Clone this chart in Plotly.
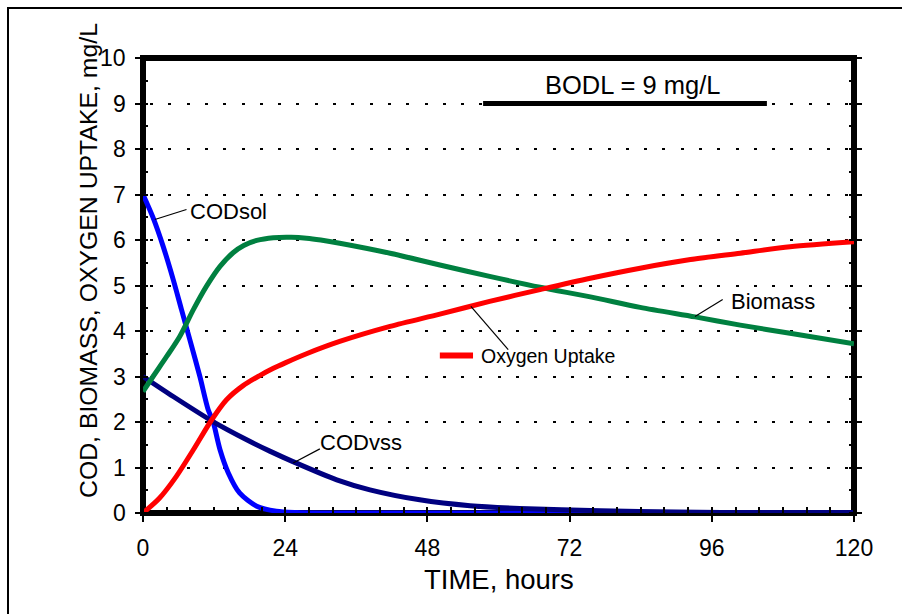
import plotly.graph_objects as go

# ---------------- data ----------------
t_codsol = [0, 1.7, 3.4, 5.1, 6.5, 7.9, 9.6, 11.0, 11.8, 13.0, 14.4, 16.3, 19.2, 22.5, 26, 30, 36, 48, 72, 96, 120]
codsol = [7.0, 6.49, 5.86, 5.13, 4.47, 3.81, 3.0, 2.27, 2.02, 1.39, 0.88, 0.44, 0.15, 0.04, 0.01, 0, 0, 0, 0, 0, 0]

t_codvss = [0, 5.1, 11.8, 17.5, 21.4, 25.3, 32.7, 38.3, 46.7, 55.2, 63.6, 77.2, 90, 105, 120]
codvss = [3.0, 2.56, 2.01, 1.61, 1.36, 1.13, 0.73, 0.51, 0.29, 0.16, 0.10, 0.05, 0.02, 0.01, 0.0]

t_biomass = [0, 1.7, 4.0, 6.2, 8.5, 10.7, 13.0, 15.2, 17, 19.2, 22, 25, 27.6, 30, 33.2, 41.7, 50.1, 58.5, 67, 75.5, 83.9, 93.2, 100.8, 109.2, 120]
biomass = [2.67, 3.0, 3.44, 3.88, 4.47, 4.98, 5.42, 5.72, 5.88, 5.99, 6.05, 6.06, 6.04, 6.0, 5.93, 5.71, 5.45, 5.2, 4.96, 4.75, 4.52, 4.31, 4.13, 3.95, 3.72]

t_oxygen = [0, 2.8, 5.6, 8.5, 11.6, 14.1, 16.9, 19.7, 22, 24, 27.6, 33.2, 41.7, 50.1, 58.5, 67, 75.5, 83.9, 92.4, 100.8, 109.2, 120]
oxygen = [0, 0.33, 0.80, 1.39, 2.05, 2.49, 2.80, 3.02, 3.18, 3.3, 3.5, 3.77, 4.1, 4.37, 4.65, 4.91, 5.16, 5.38, 5.57, 5.71, 5.85, 5.96]

bodl_value = 9
bodl_span = [57.4, 105.3]

x_ticks = [0, 24, 48, 72, 96, 120]
y_ticks = [0, 1, 2, 3, 4, 5, 6, 7, 8, 9, 10]

# ---------------- layout constants ----------------
W, H = 902, 614
L, R, T, B = 143, 48, 58, 101
PW = W - L - R
PH = H - T - B
FONT = "Arial, 'Liberation Sans', sans-serif"


def pxx(px):
    return (px - L) / PW


def pxy(py):
    return (H - B - py) / PH


fig = go.Figure()

curve = dict(shape="spline", smoothing=0.8, width=5)
fig.add_trace(go.Scatter(x=t_codsol, y=codsol, mode="lines", line=dict(color="#0000FF", **curve), name="CODsol"))
fig.add_trace(go.Scatter(x=t_codvss, y=codvss, mode="lines", line=dict(color="#000080", **curve), name="CODvss"))
fig.add_trace(go.Scatter(x=t_biomass, y=biomass, mode="lines", line=dict(color="#008040", **curve), name="Biomass"))
fig.add_trace(go.Scatter(x=t_oxygen, y=oxygen, mode="lines", line=dict(color="#FF0000", **curve), name="Oxygen Uptake"))
# BODL line
fig.add_trace(go.Scatter(x=bodl_span, y=[bodl_value, bodl_value], mode="lines", line=dict(color="black", width=5), name="BODL"))
# Oxygen uptake legend swatch
fig.add_trace(go.Scatter(x=[50.1, 55.7], y=[3.46, 3.46], mode="lines", line=dict(color="#FF0000", width=6), name="swatch"))
# dummy trace for right axis
fig.add_trace(go.Scatter(x=[0], y=[0], yaxis="y2", mode="markers", marker=dict(opacity=0), hoverinfo="skip"))

shapes = []
# plot frame
shapes.append(dict(type="rect", xref="paper", yref="paper", x0=0, x1=1, y0=0, y1=1,
                   line=dict(color="black", width=6), layer="below"))
# outer border (extends past the right and bottom edges of the picture)
shapes.append(dict(type="rect", xref="paper", yref="paper", x0=pxx(8), x1=pxx(912), y0=pxy(624), y1=pxy(8),
                   line=dict(color="black", width=2), layer="below"))
# leader lines (data coords)
leaders = [
    ((2.0, 6.45), (7.34, 6.67)),
    ((25.34, 1.10), (29.85, 1.41)),
    ((93.16, 4.32), (97.84, 4.69)),
    ((55.34, 4.54), (61.64, 3.59)),
]
for (a, b) in leaders:
    shapes.append(dict(type="line", xref="x", yref="y", x0=a[0], y0=a[1], x1=b[0], y1=b[1],
                       line=dict(color="black", width=1.2), layer="above"))

annotations = [
    dict(x=7.6, y=6.63, text="CODsol", size=22),
    dict(x=29.56, y=1.54, text="CODvss", size=22),
    dict(x=98.95, y=4.65, text="Biomass", size=22),
    dict(x=56.75, y=3.46, text="Oxygen Uptake", size=19.5),
]
ann = []
for a in annotations:
    ann.append(dict(x=a["x"], y=a["y"], xref="x", yref="y", text=a["text"], showarrow=False,
                    xanchor="left", yanchor="middle", font=dict(family=FONT, size=a["size"], color="black")))
ann.append(dict(x=82.7, y=9.41, xref="x", yref="y", text="BODL = 9 mg/L", showarrow=False,
                xanchor="center", yanchor="middle", font=dict(family=FONT, size=25.5, color="black")))
ann.append(dict(x=pxx(498.5), y=pxy(579), xref="paper", yref="paper", text="TIME, hours", showarrow=False,
                xanchor="center", yanchor="middle", font=dict(family=FONT, size=27.5, color="black")))
ann.append(dict(x=pxx(88), y=pxy(261), xref="paper", yref="paper", text="COD, BIOMASS, OXYGEN UPTAKE, mg/L",
                showarrow=False, textangle=-90, xanchor="center", yanchor="middle",
                font=dict(family=FONT, size=24.8, color="black")))
# y tick labels
for v in y_ticks:
    ann.append(dict(x=pxx(128), y=v, xref="paper", yref="y", text=str(v), showarrow=False,
                    xanchor="right", yanchor="middle", font=dict(family=FONT, size=23, color="black")))

fig.update_layout(
    width=W, height=H,
    margin=dict(l=L, r=R, t=T, b=B, pad=0),
    paper_bgcolor="white", plot_bgcolor="white",
    showlegend=False,
    shapes=shapes, annotations=ann,
    font=dict(family=FONT, color="black"),
    xaxis=dict(range=[0, 120], tickvals=x_ticks, ticks="outside", ticklen=8, tickwidth=1.5, tickcolor="black",
               showline=False, showgrid=False, zeroline=False,
               tickfont=dict(family=FONT, size=23, color="black"), ticklabelstandoff=6,
               minor=dict(dtick=4, tick0=0, ticks="inside", ticklen=6, tickwidth=1.5, tickcolor="black", showgrid=False)),
    yaxis=dict(range=[0, 10], tickvals=y_ticks, ticks="outside", ticklen=7, tickwidth=1.5, tickcolor="black",
               showline=False, zeroline=False, showgrid=True, gridcolor="black", gridwidth=2,
               griddash="0px,7px,3px,8.3px", showticklabels=False,
               minor=dict(dtick=0.5, tick0=0, ticks="inside", ticklen=5, tickwidth=1.5, tickcolor="black", showgrid=False)),
    yaxis2=dict(range=[0, 10], overlaying="y", side="right", tickvals=y_ticks, ticks="outside", ticklen=7,
                tickwidth=1.5, tickcolor="black", showticklabels=False, showline=False, zeroline=False, showgrid=False,
                minor=dict(dtick=0.5, tick0=0, ticks="inside", ticklen=5, tickwidth=1.5, tickcolor="black", showgrid=False)),
)

fig.write_html("out.html")
